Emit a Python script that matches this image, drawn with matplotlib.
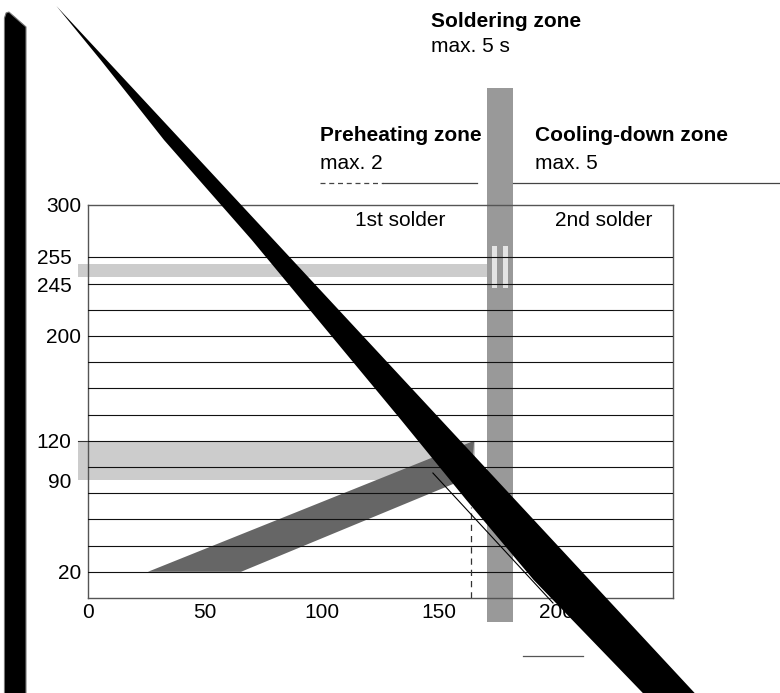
import matplotlib as mpl

mpl.use('Agg')

import matplotlib.pyplot as plt
from matplotlib.patches import Polygon, Rectangle

plt.rcParams['font.family'] = ['Liberation Sans', 'DejaVu Sans']

# --- data (time in s on x, temperature in deg C on y) ---
x_ticks = [0, 50, 100, 150, 200]
y_ticks = [300, 255, 245, 200, 120, 90, 20]
y_pads = [5, 12, 12, 5, 12, 12, 5]
grid_temps = [20, 40, 60, 80, 100, 120, 140, 160, 180, 200, 220, 240, 260]

peak_band = [245, 255]
peak_band_x = [-4.3, 170.5]
preheat_band = [90, 120]
preheat_band_x = [-4.3, 165.4]

ramp_x = [25.6, 65.4, 164.1, 165.0]
ramp_y = [20, 20, 93, 120]

solder_x = [170.5, 181.6]
solder_y = [-18.3, 389.3]
solder_marks_x = [[172.6, 174.8], [177.4, 179.5]]
solder_marks_y = [236.6, 268.7]

preheat_end_x = 163.5
preheat_end_y = [0, 69.5]
cool_x = [147.4, 198.7]
cool_y = [95.4, -3.8]

zone_line_y = 316.8
preheat_dash_x = [99.1, 126.1]
preheat_line_x = [126.1, 166.2]
cool_line_x = [181.6, 295.7]
scale_line_x = [185.9, 211.5]
scale_line_y = -44

# overlay shapes (same data units)
wedge_x = [-13.5, 266.0, 243.8, 237.1, 190.5, 161.7, 133.8, 101.9, 70.0, 32.5, 18.3, 5.4]
wedge_y = [451.9, -85.5, -85.5, -72.5, 13.7, 74.8, 135.9, 204.6, 273.3, 349.6, 381.7, 410.7]
bar_x = [-35.7, -35.7, -35.0, -33.8, -26.5, -26.5]
bar_y = [-85.5, 442.7, 446.6, 447.3, 435.9, -85.5]

fig = plt.figure(figsize=(7.8, 6.93), dpi=100)
ax = fig.add_axes([88 / 780, 95 / 693, 585 / 780, 393 / 693])
ax.set_xlim(0, 250)
ax.set_ylim(0, 300)

for s in ax.spines.values():
    s.set_color('#555555')
    s.set_linewidth(1.0)

# bands
ax.add_patch(Rectangle((peak_band_x[0], peak_band[0]), peak_band_x[1] - peak_band_x[0],
                       peak_band[1] - peak_band[0], color='#cccccc', lw=0, zorder=1, clip_on=False))
ax.add_patch(Rectangle((preheat_band_x[0], preheat_band[0]), preheat_band_x[1] - preheat_band_x[0],
                       preheat_band[1] - preheat_band[0], color='#cccccc', lw=0, zorder=1, clip_on=False))
ax.plot([preheat_band_x[0], 0], [preheat_band[1]] * 2, color='#333333', lw=0.8, clip_on=False, zorder=1.2)
ax.add_patch(Polygon(list(zip(ramp_x, ramp_y)), closed=True, color='#666666', lw=0, zorder=1.5))
ax.add_patch(Rectangle((solder_x[0], solder_y[0]), solder_x[1] - solder_x[0], solder_y[1] - solder_y[0],
                       color='#999999', lw=0, zorder=2, clip_on=False))
for mx in solder_marks_x:
    ax.add_patch(Rectangle((mx[0], solder_marks_y[0]), mx[1] - mx[0], solder_marks_y[1] - solder_marks_y[0],
                           color='#e4e4e4', lw=0, zorder=2.2))

# grid
for t in grid_temps:
    ax.axhline(t, color='#111111', lw=0.8, zorder=3)

# profile lines
ax.plot([preheat_end_x] * 2, preheat_end_y, color='#333333', lw=0.9, ls=(0, (5, 4)), zorder=4)
ax.plot(cool_x, cool_y, color='black', lw=0.8, zorder=4, clip_on=False)

# zone headers
ax.plot(preheat_dash_x, [zone_line_y] * 2, color='#444444', lw=0.9, ls=(0, (4, 3)), clip_on=False)
ax.plot(preheat_line_x, [zone_line_y] * 2, color='#444444', lw=0.9, clip_on=False)
ax.plot(cool_line_x, [zone_line_y] * 2, color='#444444', lw=0.9, clip_on=False)
ax.plot(scale_line_x, [scale_line_y] * 2, color='#555555', lw=0.9, clip_on=False)

fs = 15
ax.text(146.6, 435.9, 'Soldering zone', fontsize=fs, fontweight='bold', va='baseline', clip_on=False)
ax.text(146.6, 416.8, 'max. 5 s', fontsize=fs, va='baseline', clip_on=False)
ax.text(99.1, 348.9, 'Preheating zone', fontsize=fs, fontweight='bold', va='baseline', clip_on=False)
ax.text(99.1, 327.5, 'max. 2', fontsize=fs, va='baseline', clip_on=False)
ax.text(191.0, 348.9, 'Cooling-down zone', fontsize=fs, fontweight='bold', va='baseline', clip_on=False)
ax.text(191.0, 327.5, 'max. 5', fontsize=fs, va='baseline', clip_on=False)
ax.text(133.3, 284.0, '1st solder', fontsize=fs, ha='center', va='baseline')
ax.text(220.5, 284.0, '2nd solder', fontsize=fs, ha='center', va='baseline')

# ticks
ax.set_xticks(x_ticks)
ax.set_yticks(y_ticks)
ax.tick_params(length=0, labelsize=fs, colors='black')
ax.tick_params(axis='x', pad=3.5)
for tick, p in zip(ax.yaxis.get_major_ticks(), y_pads):
    tick.set_pad(p)
labels = ax.get_yticklabels()
labels[1].set_va('baseline')
labels[2].set_va('top')

# overlay black shapes
ax.add_patch(Polygon(list(zip(wedge_x, wedge_y)), closed=True, color='black', lw=0, zorder=10, clip_on=False))
ax.add_patch(Polygon(list(zip(bar_x, bar_y)), closed=True, facecolor='black', edgecolor='#777777',
                     lw=0.8, zorder=10, clip_on=False))

fig.savefig('out.png', dpi=100)
